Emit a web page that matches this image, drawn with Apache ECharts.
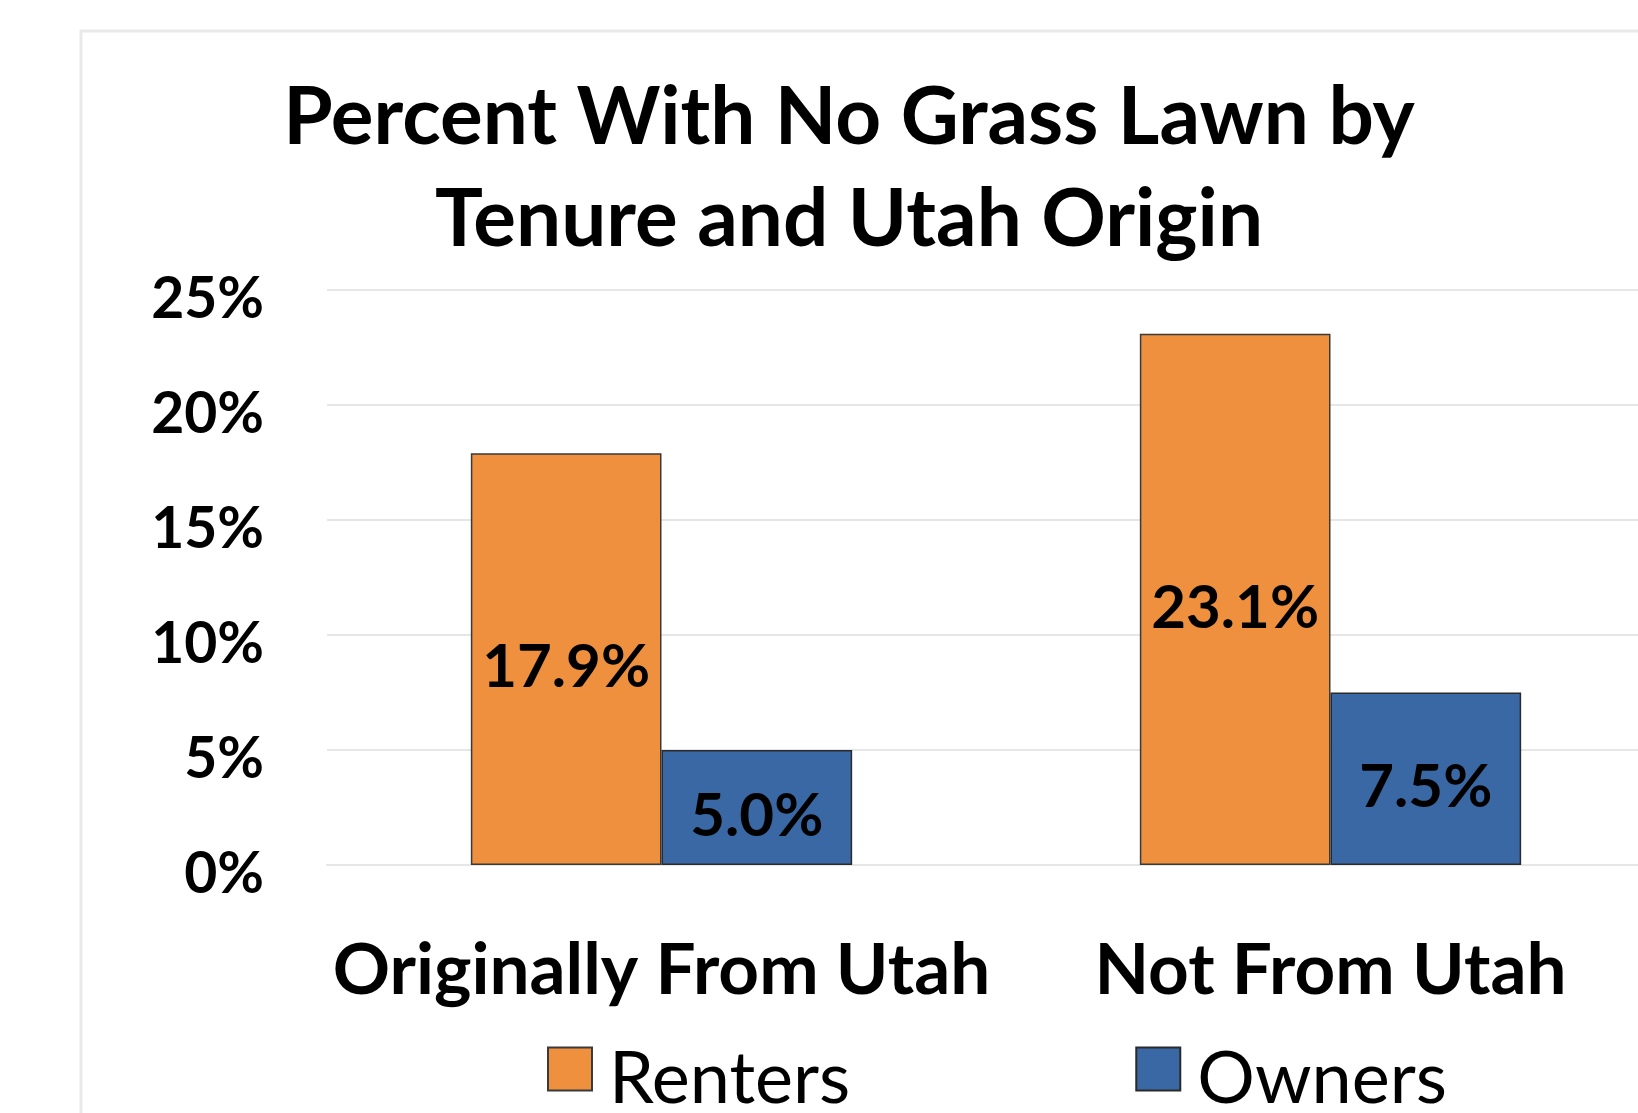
<!DOCTYPE html>
<html>
<head>
<meta charset="utf-8">
<script src="https://cdn.jsdelivr.net/npm/echarts@6/dist/echarts.min.js"></script>
<style>
html,body{margin:0;padding:0;background:#fff;overflow:hidden;width:1638px;height:1113px;}
#c{width:1665px;height:1113px;}
</style>
</head>
<body>
<div id="c"></div>
<script>
var titleLines = ['Percent With No Grass Lawn by', 'Tenure and Utah Origin'];
var categories = ['Originally From Utah', 'Not From Utah'];
var seriesNames = ['Renters', 'Owners'];
var renters = [17.9, 23.1];
var owners = [5.0, 7.5];
var yTicks = [0, 5, 10, 15, 20, 25];

var FONT = 'Lato, "Open Sans", sans-serif';
var chart = echarts.init(document.getElementById('c'));
var option = {
  backgroundColor: '#ffffff',
  animation: false,
  graphic: [
    {type: 'rect', shape: {x: 81, y: 31, width: 1700, height: 1200}, style: {fill: 'none', stroke: '#e9e9e9', lineWidth: 3}, silent: true, z: -10},
    {type: 'text', x: 849, y: 67, style: {text: titleLines.join('\n'), fill: '#000', font: 'bold 80px ' + FONT, textAlign: 'center', textVerticalAlign: 'top', lineHeight: 102}, z: 10}
  ],
  legend: {
    data: seriesNames,
    left: 542,
    top: 1017,
    icon: 'rect',
    itemWidth: 44,
    itemHeight: 43,
    itemGap: 285,
    formatter: function (name) { return '{a|' + name + '}'; },
    textStyle: {
      fontFamily: FONT, fontSize: 72, color: '#000',
      rich: {a: {fontFamily: FONT, fontSize: 72, color: '#000', lineHeight: 72, padding: [22, 0, 0, 12]}}
    }
  },
  grid: {left: 327, right: 0, top: 290, bottom: 248, containLabel: false},
  xAxis: {
    type: 'category',
    data: categories,
    axisLine: {show: true, lineStyle: {color: '#e6e6e6', width: 2}},
    axisTick: {show: false},
    axisLabel: {interval: 0, fontFamily: FONT, fontWeight: 'bold', fontSize: 71, color: '#000', margin: 71}
  },
  yAxis: {
    type: 'value',
    min: 0, max: 25, interval: 5,
    axisLine: {show: false},
    axisTick: {show: false},
    splitLine: {lineStyle: {color: '#e6e6e6', width: 2}},
    axisLabel: {fontFamily: FONT, fontWeight: 'bold', fontSize: 57, color: '#000', margin: 63, verticalAlign: 'top', lineHeight: 20,
      formatter: function (v) { return yTicks.indexOf(v) >= 0 ? v + '%' : ''; }}
  },
  series: [
    {
      name: seriesNames[0], type: 'bar', data: renters, barGap: '0%', barCategoryGap: '43%',
      itemStyle: {color: '#ee903d', borderColor: '#3a3a3a', borderWidth: 1.5},
      label: {show: true, position: 'inside', offset: [0, 9], fontFamily: FONT, fontWeight: 'bold', fontSize: 60, color: '#000',
        formatter: function (p) { return p.value.toFixed(1) + '%'; }}
    },
    {
      name: seriesNames[1], type: 'bar', data: owners, barGap: '0%', barCategoryGap: '43%',
      itemStyle: {color: '#3a68a5', borderColor: '#2a2a2a', borderWidth: 1.5},
      label: {show: true, position: 'inside', offset: [0, 9], fontFamily: FONT, fontWeight: 'bold', fontSize: 60, color: '#000',
        formatter: function (p) { return p.value.toFixed(1) + '%'; }}
    }
  ]
};
chart.setOption(option);
</script>
</body>
</html>
